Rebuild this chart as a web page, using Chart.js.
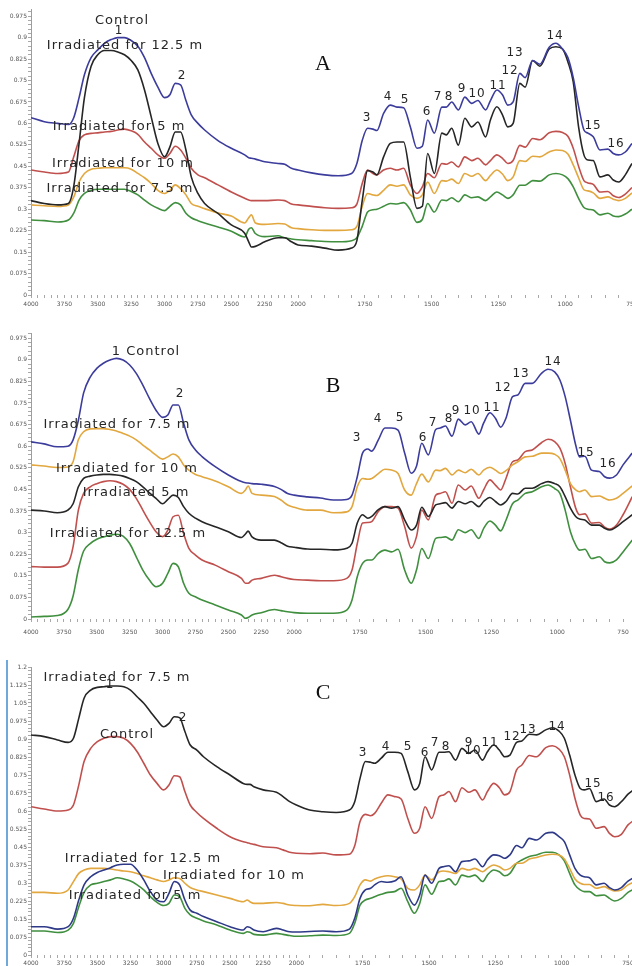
<!DOCTYPE html>
<html>
<head>
<meta charset="utf-8">
<script src="https://cdn.jsdelivr.net/npm/chart.js@4.4.1/dist/chart.umd.min.js"></script>
<style>
  body { margin: 0; width: 632px; height: 966px; overflow: hidden; background: #fff; position: relative; font-family: "DejaVu Sans", sans-serif; }
  .panel { position: absolute; left: 0; }
  .lbl { position: absolute; white-space: nowrap; font-size: 13px; letter-spacing: 1px; color: #262626; transform: translate(-50%, -50%); }
  .num { font-size: 12px; letter-spacing: 0.8px; }
  .letter { font-family: "Liberation Serif", serif; font-size: 22px; letter-spacing: 0; color: #111; }
  #edge { position: absolute; left: 6px; top: 660px; width: 2px; height: 306px; background: #6fa8dc; }
</style>
</head>
<body>
<div class="panel" style="top:0"><canvas id="chartA" width="660" height="312"></canvas></div>
<div class="panel" style="top:322px"><canvas id="chartB" width="660" height="314"></canvas></div>
<div class="panel" style="top:655px"><canvas id="chartC" width="660" height="311"></canvas></div>
<div id="edge"></div>
<div id="labels"></div>
<script>
// Numero de onda (cm-1), comun a los tres espectros
const wn = [4000, 3900, 3800, 3720, 3680, 3640, 3600, 3550, 3500, 3450,
    3400, 3350, 3300, 3250, 3200, 3150, 3100, 3050, 3000, 2960,
    2920, 2880, 2840, 2800, 2750, 2700, 2600, 2500, 2400, 2370,
    2350, 2320, 2250, 2150, 2100, 2050,
    2000, 1950, 1900, 1850, 1800, 1780, 1760, 1740, 1720, 1705,
    1680, 1655, 1630, 1605, 1580, 1555, 1535, 1515, 1490, 1462,
    1445, 1425, 1400, 1376, 1350, 1327, 1298, 1280, 1256, 1235,
    1215, 1195, 1170, 1150, 1122, 1095, 1060, 1035, 1010, 990,
    970, 950, 930, 915, 895, 870, 840, 820, 800, 775,
    750, 715];

// Panel A
const aControl = [0.62, 0.606, 0.60, 0.596, 0.62, 0.69, 0.77, 0.83, 0.857, 0.88,
    0.893, 0.90, 0.90, 0.89, 0.87, 0.83, 0.775, 0.727, 0.69, 0.70,
    0.74, 0.735, 0.68, 0.63, 0.60, 0.577, 0.54, 0.513, 0.49, 0.48,
    0.478, 0.475, 0.466, 0.46, 0.457, 0.443,
    0.437, 0.427, 0.42, 0.417, 0.425, 0.46, 0.54, 0.583, 0.58, 0.575,
    0.635, 0.664, 0.657, 0.655, 0.588, 0.513, 0.52, 0.612, 0.566, 0.657,
    0.657, 0.675, 0.647, 0.692, 0.67, 0.68, 0.647, 0.68, 0.717, 0.70,
    0.664, 0.675, 0.775, 0.76, 0.82, 0.807, 0.866, 0.88, 0.86, 0.83,
    0.76, 0.66, 0.577, 0.566, 0.553, 0.507, 0.51, 0.495, 0.49, 0.50,
    0.53, 0.57];
const a12_5 = [0.33, 0.32, 0.315, 0.32, 0.38, 0.53, 0.69, 0.80, 0.84, 0.855,
    0.855, 0.85, 0.84, 0.82, 0.787, 0.717, 0.623, 0.53, 0.483, 0.518,
    0.57, 0.57, 0.507, 0.413, 0.355, 0.32, 0.285, 0.245, 0.216, 0.186,
    0.168, 0.17, 0.186, 0.20, 0.20, 0.186,
    0.175, 0.171, 0.164, 0.157, 0.164, 0.19, 0.33, 0.435, 0.43, 0.42,
    0.483, 0.53, 0.535, 0.535, 0.413, 0.303, 0.31, 0.495, 0.425, 0.566,
    0.56, 0.583, 0.524, 0.618, 0.588, 0.605, 0.553, 0.612, 0.658, 0.63,
    0.588, 0.60, 0.74, 0.727, 0.82, 0.80, 0.86, 0.868, 0.86, 0.815,
    0.745, 0.588, 0.49, 0.472, 0.47, 0.413, 0.42, 0.402, 0.395, 0.42,
    0.46, 0.50];
const a5 = [0.437, 0.43, 0.425, 0.43, 0.483, 0.54, 0.56, 0.565, 0.567, 0.57,
    0.572, 0.577, 0.58, 0.574, 0.562, 0.535, 0.513, 0.49, 0.478, 0.495,
    0.52, 0.507, 0.478, 0.443, 0.42, 0.41, 0.385, 0.36, 0.338, 0.332,
    0.33, 0.33, 0.33, 0.332, 0.33, 0.318,
    0.315, 0.31, 0.305, 0.303, 0.305, 0.318, 0.39, 0.437, 0.425, 0.42,
    0.437, 0.443, 0.437, 0.443, 0.385, 0.355, 0.378, 0.425, 0.41, 0.46,
    0.457, 0.465, 0.448, 0.483, 0.47, 0.478, 0.455, 0.47, 0.49, 0.478,
    0.46, 0.47, 0.523, 0.517, 0.547, 0.543, 0.567, 0.572, 0.568, 0.555,
    0.513, 0.45, 0.40, 0.392, 0.387, 0.36, 0.362, 0.347, 0.341, 0.353,
    0.376, 0.41];
const a10 = [0.315, 0.312, 0.31, 0.315, 0.343, 0.395, 0.425, 0.44, 0.443, 0.445,
    0.445, 0.445, 0.445, 0.44, 0.425, 0.41, 0.39, 0.366, 0.355, 0.366,
    0.385, 0.372, 0.35, 0.32, 0.31, 0.302, 0.287, 0.276, 0.252, 0.27,
    0.28, 0.252, 0.247, 0.25, 0.248, 0.235,
    0.232, 0.228, 0.226, 0.226, 0.228, 0.24, 0.31, 0.355, 0.35, 0.348,
    0.366, 0.385, 0.38, 0.385, 0.35, 0.338, 0.35, 0.395, 0.355, 0.40,
    0.398, 0.405, 0.39, 0.425, 0.415, 0.425, 0.40, 0.418, 0.437, 0.423,
    0.40, 0.413, 0.47, 0.467, 0.485, 0.483, 0.50, 0.507, 0.505, 0.493,
    0.455, 0.41, 0.368, 0.364, 0.357, 0.338, 0.343, 0.335, 0.33, 0.338,
    0.357, 0.385];
const a7_5 = [0.262, 0.26, 0.255, 0.262, 0.286, 0.332, 0.355, 0.366, 0.37, 0.37,
    0.37, 0.37, 0.37, 0.362, 0.35, 0.332, 0.315, 0.303, 0.295, 0.31,
    0.323, 0.315, 0.286, 0.27, 0.26, 0.252, 0.238, 0.223, 0.203, 0.23,
    0.235, 0.215, 0.204, 0.207, 0.20, 0.196,
    0.193, 0.19, 0.187, 0.186, 0.19, 0.20, 0.24, 0.29, 0.298, 0.30,
    0.31, 0.32, 0.318, 0.323, 0.298, 0.254, 0.264, 0.32, 0.29, 0.332,
    0.33, 0.34, 0.326, 0.35, 0.34, 0.343, 0.33, 0.343, 0.36, 0.35,
    0.338, 0.35, 0.384, 0.384, 0.40, 0.398, 0.42, 0.425, 0.42, 0.407,
    0.378, 0.338, 0.306, 0.30, 0.297, 0.28, 0.286, 0.276, 0.274, 0.283,
    0.30, 0.32];

// Panel B
const bControl = [0.615, 0.608, 0.598, 0.60, 0.622, 0.69, 0.785, 0.84, 0.87, 0.888,
    0.899, 0.905, 0.899, 0.882, 0.853, 0.812, 0.766, 0.725, 0.70, 0.708,
    0.743, 0.743, 0.68, 0.622, 0.587, 0.564, 0.529, 0.50, 0.477, 0.473,
    0.472, 0.47, 0.468, 0.46, 0.45, 0.436,
    0.43, 0.424, 0.42, 0.413, 0.415, 0.43, 0.494, 0.576, 0.59, 0.583,
    0.622, 0.663, 0.663, 0.656, 0.576, 0.506, 0.53, 0.61, 0.57, 0.658,
    0.663, 0.67, 0.635, 0.694, 0.674, 0.685, 0.642, 0.68, 0.716, 0.697,
    0.666, 0.697, 0.772, 0.778, 0.818, 0.818, 0.853, 0.867, 0.858, 0.83,
    0.772, 0.69, 0.604, 0.563, 0.565, 0.517, 0.512, 0.494, 0.489, 0.50,
    0.535, 0.576];
const b7_5 = [0.535, 0.531, 0.526, 0.528, 0.546, 0.622, 0.65, 0.66, 0.661, 0.661,
    0.658, 0.653, 0.644, 0.635, 0.622, 0.604, 0.587, 0.569, 0.555, 0.563,
    0.573, 0.563, 0.535, 0.517, 0.502, 0.494, 0.479, 0.459, 0.436, 0.448,
    0.462, 0.436, 0.43, 0.425, 0.413, 0.396,
    0.388, 0.378, 0.378, 0.369, 0.372, 0.39, 0.459, 0.488, 0.485, 0.488,
    0.505, 0.52, 0.517, 0.505, 0.448, 0.43, 0.47, 0.503, 0.476, 0.517,
    0.515, 0.523, 0.50, 0.517, 0.508, 0.52, 0.50, 0.517, 0.527, 0.517,
    0.505, 0.515, 0.535, 0.546, 0.563, 0.565, 0.576, 0.576, 0.572, 0.557,
    0.517, 0.47, 0.448, 0.442, 0.448, 0.425, 0.427, 0.419, 0.413, 0.419,
    0.436, 0.462];
const b10 = [0.378, 0.375, 0.369, 0.378, 0.40, 0.459, 0.488, 0.496, 0.50, 0.502,
    0.502, 0.50, 0.496, 0.488, 0.477, 0.459, 0.438, 0.419, 0.40, 0.415,
    0.43, 0.422, 0.39, 0.367, 0.35, 0.338, 0.32, 0.303, 0.283, 0.295,
    0.305, 0.285, 0.274, 0.274, 0.265, 0.253,
    0.249, 0.243, 0.242, 0.24, 0.246, 0.263, 0.333, 0.362, 0.35, 0.356,
    0.38, 0.39, 0.385, 0.39, 0.344, 0.309, 0.326, 0.388, 0.356, 0.396,
    0.40, 0.404, 0.385, 0.408, 0.40, 0.408, 0.39, 0.408, 0.422, 0.408,
    0.396, 0.408, 0.436, 0.434, 0.454, 0.454, 0.47, 0.477, 0.47, 0.459,
    0.425, 0.385, 0.356, 0.347, 0.344, 0.326, 0.326, 0.315, 0.309, 0.32,
    0.338, 0.362];
const b5 = [0.182, 0.18, 0.18, 0.193, 0.251, 0.378, 0.436, 0.459, 0.47, 0.477,
    0.48, 0.477, 0.468, 0.45, 0.419, 0.378, 0.338, 0.303, 0.286, 0.309,
    0.355, 0.36, 0.297, 0.245, 0.222, 0.205, 0.187, 0.164, 0.141, 0.124,
    0.124, 0.135, 0.141, 0.152, 0.147, 0.141,
    0.137, 0.135, 0.133, 0.133, 0.141, 0.17, 0.262, 0.333, 0.335, 0.338,
    0.373, 0.39, 0.39, 0.385, 0.321, 0.246, 0.286, 0.378, 0.344, 0.43,
    0.436, 0.442, 0.402, 0.465, 0.448, 0.462, 0.419, 0.448, 0.483, 0.465,
    0.448, 0.488, 0.546, 0.552, 0.581, 0.587, 0.612, 0.624, 0.616, 0.593,
    0.54, 0.459, 0.385, 0.362, 0.365, 0.333, 0.335, 0.319, 0.312, 0.326,
    0.362, 0.425];
const b12_5 = [0.007, 0.009, 0.012, 0.033, 0.08, 0.172, 0.236, 0.262, 0.277, 0.285,
    0.291, 0.294, 0.288, 0.262, 0.216, 0.17, 0.135, 0.112, 0.124, 0.158,
    0.193, 0.181, 0.124, 0.089, 0.077, 0.066, 0.049, 0.031, 0.014, 0.002,
    0.005, 0.014, 0.022, 0.033, 0.029, 0.025,
    0.022, 0.02, 0.02, 0.02, 0.031, 0.066, 0.147, 0.193, 0.205, 0.205,
    0.228, 0.239, 0.233, 0.242, 0.17, 0.124, 0.17, 0.245, 0.21, 0.28,
    0.283, 0.285, 0.274, 0.31, 0.30, 0.31, 0.28, 0.314, 0.34, 0.326,
    0.306, 0.343, 0.40, 0.413, 0.436, 0.442, 0.459, 0.465, 0.453, 0.436,
    0.378, 0.303, 0.257, 0.239, 0.242, 0.21, 0.216, 0.199, 0.195, 0.205,
    0.233, 0.274];

// Panel C
const c7_5 = [0.917, 0.91, 0.896, 0.886, 0.903, 0.986, 1.07, 1.104, 1.115, 1.118,
    1.121, 1.121, 1.118, 1.104, 1.076, 1.049, 1.014, 0.979, 0.951, 0.965,
    0.993, 0.989, 0.931, 0.875, 0.854, 0.826, 0.785, 0.75, 0.715, 0.711,
    0.711, 0.701, 0.688, 0.678, 0.66, 0.639,
    0.625, 0.604, 0.597, 0.594, 0.604, 0.639, 0.736, 0.806, 0.803, 0.799,
    0.82, 0.845, 0.845, 0.84, 0.764, 0.688, 0.715, 0.826, 0.771, 0.845,
    0.845, 0.847, 0.812, 0.861, 0.84, 0.854, 0.812, 0.847, 0.875, 0.854,
    0.826, 0.833, 0.886, 0.892, 0.92, 0.917, 0.938, 0.947, 0.933, 0.903,
    0.833, 0.75, 0.694, 0.688, 0.694, 0.639, 0.65, 0.625, 0.618, 0.639,
    0.67, 0.70];
const cControl = [0.618, 0.608, 0.60, 0.604, 0.625, 0.708, 0.806, 0.861, 0.889, 0.903,
    0.91, 0.91, 0.903, 0.882, 0.847, 0.799, 0.75, 0.715, 0.688, 0.708,
    0.747, 0.743, 0.681, 0.625, 0.594, 0.569, 0.528, 0.493, 0.472, 0.468,
    0.465, 0.461, 0.451, 0.447, 0.438, 0.428,
    0.424, 0.422, 0.425, 0.417, 0.42, 0.455, 0.556, 0.586, 0.58, 0.59,
    0.632, 0.667, 0.66, 0.65, 0.569, 0.507, 0.528, 0.618, 0.569, 0.66,
    0.667, 0.681, 0.639, 0.697, 0.678, 0.688, 0.646, 0.681, 0.715, 0.697,
    0.667, 0.681, 0.771, 0.792, 0.831, 0.826, 0.864, 0.872, 0.858, 0.826,
    0.75, 0.653, 0.583, 0.569, 0.567, 0.528, 0.535, 0.507, 0.493, 0.503,
    0.542, 0.57];
const c12_5 = [0.118, 0.118, 0.108, 0.118, 0.153, 0.229, 0.292, 0.326, 0.344, 0.354,
    0.364, 0.375, 0.378, 0.378, 0.354, 0.313, 0.264, 0.229, 0.222, 0.257,
    0.306, 0.292, 0.229, 0.187, 0.174, 0.16, 0.139, 0.118, 0.104, 0.118,
    0.115, 0.104, 0.097, 0.111, 0.104, 0.097,
    0.096, 0.098, 0.10, 0.097, 0.108, 0.153, 0.236, 0.271, 0.278, 0.292,
    0.306, 0.303, 0.308, 0.326, 0.25, 0.208, 0.25, 0.333, 0.299, 0.361,
    0.368, 0.372, 0.347, 0.389, 0.392, 0.40, 0.368, 0.396, 0.417, 0.414,
    0.403, 0.417, 0.456, 0.447, 0.486, 0.479, 0.507, 0.511, 0.493, 0.472,
    0.417, 0.361, 0.333, 0.326, 0.322, 0.292, 0.299, 0.281, 0.271, 0.281,
    0.308, 0.33];
const c10 = [0.261, 0.261, 0.257, 0.271, 0.306, 0.34, 0.354, 0.361, 0.361, 0.361,
    0.358, 0.354, 0.35, 0.347, 0.34, 0.33, 0.322, 0.313, 0.306, 0.313,
    0.322, 0.319, 0.299, 0.281, 0.271, 0.264, 0.25, 0.236, 0.222, 0.229,
    0.222, 0.215, 0.215, 0.219, 0.215, 0.208,
    0.206, 0.205, 0.211, 0.206, 0.215, 0.243, 0.292, 0.313, 0.308, 0.317,
    0.326, 0.33, 0.326, 0.317, 0.278, 0.271, 0.292, 0.333, 0.313, 0.347,
    0.35, 0.347, 0.34, 0.361, 0.354, 0.361, 0.347, 0.361, 0.375, 0.368,
    0.354, 0.361, 0.382, 0.382, 0.40, 0.406, 0.417, 0.42, 0.417, 0.40,
    0.361, 0.317, 0.299, 0.294, 0.294, 0.278, 0.285, 0.275, 0.267, 0.271,
    0.292, 0.31];
const c5 = [0.10, 0.10, 0.094, 0.104, 0.132, 0.201, 0.261, 0.292, 0.299, 0.306,
    0.313, 0.322, 0.317, 0.308, 0.292, 0.271, 0.243, 0.219, 0.206, 0.215,
    0.25, 0.243, 0.194, 0.167, 0.153, 0.142, 0.125, 0.104, 0.09, 0.097,
    0.095, 0.086, 0.083, 0.09, 0.086, 0.081,
    0.078, 0.08, 0.083, 0.081, 0.09, 0.132, 0.208, 0.229, 0.236, 0.243,
    0.253, 0.261, 0.264, 0.278, 0.222, 0.174, 0.215, 0.292, 0.253, 0.306,
    0.308, 0.317, 0.292, 0.333, 0.326, 0.333, 0.306, 0.333, 0.354, 0.347,
    0.33, 0.34, 0.382, 0.396, 0.41, 0.417, 0.428, 0.428, 0.417, 0.392,
    0.34, 0.292, 0.271, 0.264, 0.264, 0.247, 0.25, 0.236, 0.225, 0.236,
    0.261, 0.28];

// Etiquetas del eje x (cm-1)
const xTickLabels = [4000, 3750, 3500, 3250, 3000, 2750, 2500, 2250, 2000, 1750, 1500, 1250, 1000, 750];

const colores = {
    azul: "#3c3c9c",
    negro: "#262626",
    rojo: "#c0504d",
    naranja: "#e2a73e",
    verde: "#3f8f3f",
    marino: "#2e3a87"
};

// Debajo de 2000 cm-1 el eje esta expandido al doble
function aEje(v) {
    return v >= 2000 ? 4000 - v : 2000 + 2 * (2000 - v);
}
function aNumeroOnda(u) {
    return u <= 2000 ? 4000 - u : 2000 - (u - 2000) / 2;
}

function ticksX() {
    const t = [];
    for (let v = 4000; v >= 750; v -= 50) t.push({ value: aEje(v) });
    return t;
}
function ticksY(max) {
    const t = [];
    for (let i = 0; i * 0.015 <= max + 1e-9; i++) t.push({ value: +(i * 0.015).toFixed(3) });
    return t;
}

function crearPanel(id, series, cfg) {
    const ctx = document.getElementById(id).getContext("2d");
    return new Chart(ctx, {
        type: "line",
        data: {
            datasets: series.map(s => ({
                label: s.nombre,
                data: wn.map((v, i) => ({ x: aEje(v), y: s.valores[i] })),
                borderColor: s.color,
                borderWidth: 1.6,
                pointRadius: 0,
                fill: false,
                cubicInterpolationMode: "monotone"
            }))
        },
        options: {
            responsive: false,
            animation: false,
            layout: { padding: { top: cfg.padTop, left: 0, right: 28, bottom: 0 }, autoPadding: false },
            plugins: { legend: { display: false }, tooltip: { enabled: false } },
            scales: {
                x: {
                    type: "linear",
                    min: 0,
                    max: cfg.xMax,
                    afterBuildTicks: s => { s.ticks = ticksX(); },
                    afterFit: s => { s.height = cfg.altoEjeX; },
                    ticks: {
                        autoSkip: false,
                        maxRotation: 0,
                        padding: cfg.padTicks,
                        color: "#555",
                        font: { family: "DejaVu Sans", size: 6 },
                        callback: u => {
                            const v = Math.round(aNumeroOnda(u));
                            return xTickLabels.includes(v) ? String(v) : "";
                        }
                    },
                    grid: { drawOnChartArea: false, tickLength: 3, color: "#a8a8a8" },
                    border: { display: false }
                },
                y: {
                    min: 0,
                    max: cfg.yMax,
                    afterBuildTicks: s => { s.ticks = ticksY(cfg.yMax); },
                    afterFit: s => { s.width = 31; },
                    ticks: {
                        autoSkip: false,
                        padding: 1,
                        color: "#555",
                        font: { family: "DejaVu Sans", size: 6 },
                        callback: v => {
                            const k = v / 0.075;
                            return Math.abs(k - Math.round(k)) < 1e-6 ? String(parseFloat(v.toFixed(3))) : "";
                        }
                    },
                    grid: { drawOnChartArea: false, tickLength: 3, color: "#a8a8a8" },
                    border: { display: true, color: "#8fa0b5" }
                }
            }
        }
    });
}

crearPanel("chartA", [
    { nombre: "Control", valores: aControl, color: colores.azul },
    { nombre: "Irradiated for 12.5 m", valores: a12_5, color: colores.negro },
    { nombre: "Irradiated for 5 m", valores: a5, color: colores.rojo },
    { nombre: "Irradiated for 10 m", valores: a10, color: colores.naranja },
    { nombre: "Irradiated for 7.5 m", valores: a7_5, color: colores.verde }
], { yMax: 1.0, xMax: 4500, padTop: 9, altoEjeX: 17, padTicks: 3 });

crearPanel("chartB", [
    { nombre: "Control", valores: bControl, color: colores.azul },
    { nombre: "Irradiated for 7.5 m", valores: b7_5, color: colores.naranja },
    { nombre: "Irradiated for 10 m", valores: b10, color: colores.negro },
    { nombre: "Irradiated 5 m", valores: b5, color: colores.rojo },
    { nombre: "Irradiated for 12.5 m", valores: b12_5, color: colores.verde }
], { yMax: 0.993, xMax: 4568, padTop: 11, altoEjeX: 17, padTicks: 7 });

crearPanel("chartC", [
    { nombre: "Irradiated for 7.5 m", valores: c7_5, color: colores.negro },
    { nombre: "Control", valores: cControl, color: colores.rojo },
    { nombre: "Irradiated for 12.5 m", valores: c12_5, color: colores.marino },
    { nombre: "Irradiated for 10 m", valores: c10, color: colores.naranja },
    { nombre: "Irradiated for 5 m", valores: c5, color: colores.verde }
], { yMax: 1.2, xMax: 4530, padTop: 12, altoEjeX: 11, padTicks: 2 });

// Rotulos de series, bandas y paneles
const rotulos = [
    ["Control", 122, 19, ""], ["1", 119, 30, "num"], ["Irradiated for 12.5 m", 125, 44, ""], ["2", 182, 75, "num"],
    ["Irradiated for 5 m", 119, 125, ""], ["Irradiated for 10 m", 123, 162, ""], ["Irradiated for 7.5 m", 120, 187, ""],
    ["3", 367, 117, "num"], ["4", 388, 96, "num"], ["5", 405, 99, "num"], ["6", 427, 111, "num"], ["7", 438, 96, "num"],
    ["8", 449, 96, "num"], ["9", 462, 88, "num"], ["10", 477, 93, "num"], ["11", 498, 85, "num"], ["12", 510, 70, "num"],
    ["13", 515, 52, "num"], ["14", 555, 35, "num"], ["15", 593, 125, "num"], ["16", 616, 143, "num"], ["A", 323, 63, "letter"],

    ["1  Control", 146, 350, ""], ["2", 180, 393, "num"], ["Irradiated for 7.5 m", 117, 423, ""],
    ["Irradiated for 10 m", 127, 467, ""], ["Irradiated 5 m", 136, 491, ""], ["Irradiated for 12.5 m", 128, 532, ""],
    ["3", 357, 437, "num"], ["4", 378, 418, "num"], ["5", 400, 417, "num"], ["6", 423, 437, "num"], ["7", 433, 422, "num"],
    ["8", 449, 418, "num"], ["9", 456, 410, "num"], ["10", 472, 410, "num"], ["11", 492, 407, "num"], ["12", 503, 387, "num"],
    ["13", 521, 373, "num"], ["14", 553, 361, "num"], ["15", 586, 452, "num"], ["16", 608, 463, "num"], ["B", 333, 385, "letter"],

    ["Irradiated for 7.5 m", 117, 676, ""], ["1", 110, 684, "num"], ["2", 183, 717, "num"], ["Control", 127, 733, ""],
    ["Irradiated for 12.5 m", 143, 857, ""], ["Irradiated for 10 m", 234, 874, ""], ["Irradiated for 5 m", 135, 894, ""],
    ["3", 363, 752, "num"], ["4", 386, 746, "num"], ["5", 408, 746, "num"], ["6", 425, 752, "num"], ["7", 435, 742, "num"],
    ["8", 446, 746, "num"], ["9", 469, 742, "num"], ["10", 473, 750, "num"], ["11", 490, 742, "num"], ["12", 512, 736, "num"],
    ["13", 528, 729, "num"], ["14", 557, 726, "num"], ["15", 593, 783, "num"], ["16", 606, 797, "num"], ["C", 323, 692, "letter"]
];

const capa = document.getElementById("labels");
rotulos.forEach(([texto, x, y, clase]) => {
    const d = document.createElement("div");
    d.className = "lbl " + clase;
    d.style.left = x + "px";
    d.style.top = y + "px";
    d.textContent = texto;
    capa.appendChild(d);
});
</script>
</body>
</html>
